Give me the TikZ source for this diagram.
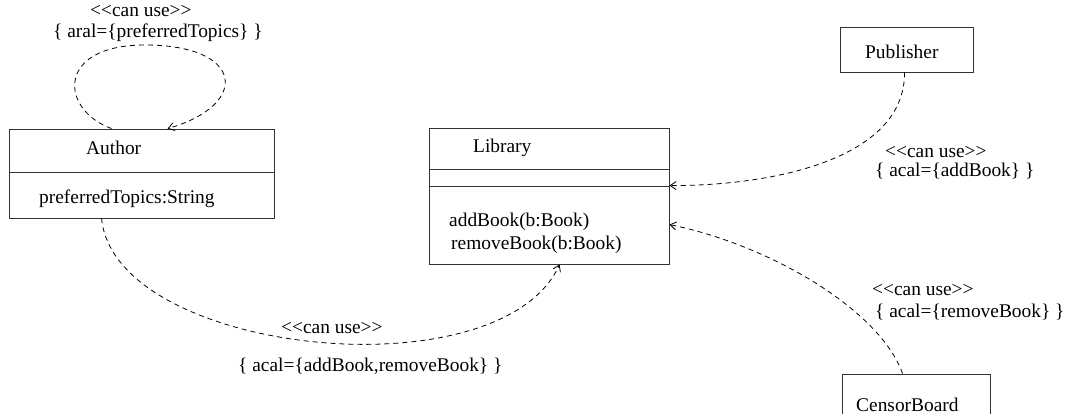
\documentclass[tikz,border=0pt]{standalone}
\usepackage{fontspec}
\setmainfont{Liberation Serif}
\usetikzlibrary{arrows.meta}
\newcommand{\canuse}{<{}<can use>{}>}
\begin{document}
\begin{tikzpicture}[x=1pt,y=-1pt,
  box/.style={draw=black!80,line width=0.9pt,rectangle,inner sep=0pt},
  txt/.style={inner sep=0pt,anchor=base west,font=\fontsize{19.4}{23}\selectfont},
  dep/.style={draw=black,line width=0.8pt,dash pattern=on 5pt off 4pt,
    -{Straight Barb[length=6pt,width=8pt,line width=0.8pt]}},
  divider/.style={draw=black!80,line width=0.9pt}]
\useasboundingbox (0,0) rectangle (1065,414);
% boxes
\node[box,minimum width=265pt,minimum height=89pt] (author) at (141.5,173.5) {};
\node[box,minimum width=240pt,minimum height=136pt] (library) at (549,196) {};
\node[box,minimum width=133pt,minimum height=45pt] (publisher) at (906.5,49.5) {};
\node[box,minimum width=148pt,minimum height=46pt] (censor) at (916,397) {};
% dividers
\draw[divider] ([yshift=-44pt]author.north west) -- ([yshift=-44pt]author.north east);
\draw[divider] ([yshift=-42pt]library.north west) -- ([yshift=-42pt]library.north east);
\draw[divider] ([yshift=-59pt]library.north west) -- ([yshift=-59pt]library.north east);
% texts in boxes
\node[txt] (tauthor) at (86,155) {Author};
\node[txt] (tpref) at (39,204) {preferredTopics:String};
\node[txt] (tlib) at (473,153) {Library};
\node[txt] (tadd) at (449,226) {addBook(b:Book)};
\node[txt] (trem) at (451,249) {removeBook(b:Book)};
\node[txt] (tpub) at (865,59) {Publisher};
\node[txt] (tcen) at (856,411) {CensorBoard};
% connectors
\draw[dep] ([xshift=103pt]author.north west) .. controls (60,110) and (55,45) .. (145,45)
  .. controls (245,45) and (250,105) .. ([xshift=159pt]author.north west);
\draw[dep] ([xshift=93pt]author.south west) .. controls (115,355) and (500,395) .. ([xshift=131pt]library.south west);
\draw[dep] ([xshift=65pt]publisher.south west) .. controls (905,160) and (770,186) .. ([yshift=-58pt]library.north east);
\draw[dep] ([xshift=61pt]censor.north west) .. controls (880,310) and (770,245) .. ([yshift=-97pt]library.north east);
% labels
\node[txt] (l1a) at (90,17) {\canuse};
\node[txt] (l1b) at (53,38) {\{ aral=\{preferredTopics\} \}};
\node[txt] (l2a) at (885,158) {\canuse};
\node[txt] (l2b) at (875,177) {\{ acal=\{addBook\} \}};
\node[txt] (l3a) at (872,295) {\canuse};
\node[txt] (l3b) at (875,317) {\{ acal=\{removeBook\} \}};
\node[txt] (l4a) at (281,333) {\canuse};
\node[txt] (l4b) at (238,371) {\{ acal=\{addBook,removeBook\} \}};
\end{tikzpicture}
\end{document}
